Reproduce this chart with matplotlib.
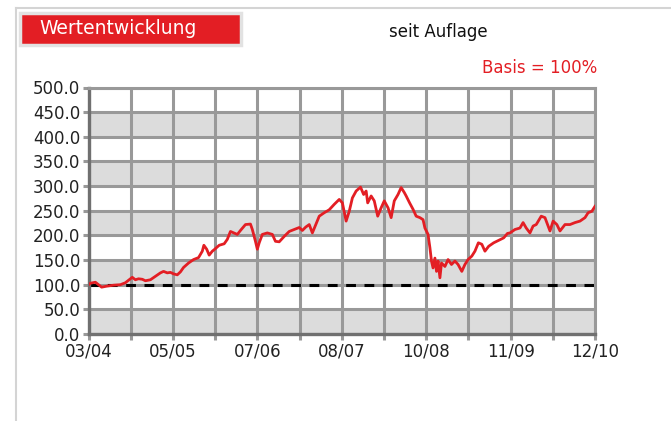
import matplotlib
matplotlib.use('Agg')
import matplotlib.pyplot as plt
import numpy as np
from matplotlib.patches import Rectangle
from matplotlib.lines import Line2D

# months since 03/04, value (Basis = 100)
months = [0.0, 0.3, 1.1, 1.6, 2.1, 2.9, 4.0, 5.1, 5.9, 6.7, 7.0, 7.5, 8.0, 8.6, 9.1, 9.9,
          10.7, 11.5, 12.0, 12.6, 13.1, 13.6, 14.2, 14.7, 15.2, 16.0, 16.8, 17.6, 18.2, 18.45,
          18.9, 19.3, 19.8, 20.1, 20.9, 21.7, 22.2, 22.7, 23.25, 23.8, 24.3, 25.1, 25.9, 26.2,
          26.7, 27.0, 27.3, 27.8, 28.6, 29.4, 29.9, 30.5, 31.3, 32.1, 32.9, 33.7, 34.2, 34.75,
          35.3, 35.8, 36.35, 36.9, 37.7, 38.5, 39.3, 40.1, 40.6, 41.2, 41.7, 42.2, 42.8, 43.5,
          44.0, 44.4, 44.65, 45.2, 45.7, 46.25, 46.8, 47.3, 47.9, 48.4, 48.9, 49.5, 50.0, 50.5,
          50.8, 51.35, 51.9, 52.4, 53.0, 53.5, 53.8, 54.3, 54.6, 54.85, 55.1, 55.4, 55.65, 55.9,
          56.2, 56.45, 57.0, 57.5, 58.05, 58.6, 59.1, 59.7, 60.2, 60.7, 61.3, 61.8, 62.35, 62.9,
          63.4, 64.0, 64.8, 65.6, 66.4, 67.0, 67.4, 68.2, 69.0, 69.5, 70.0, 70.6, 71.1, 71.6,
          72.4, 73.0, 73.5, 73.8, 74.3, 74.9, 75.4, 76.2, 77.0, 77.8, 78.6, 79.4, 79.9, 80.5, 81.0]
values = [100, 103, 105, 100, 95, 97, 99, 100, 104, 112, 115, 110, 112, 111, 108, 110,
          117, 124, 127, 124, 125, 122, 120, 126, 135, 144, 151, 155, 168, 180,
          172, 160, 168, 171, 180, 183, 192, 208, 205, 202, 210, 222, 223, 212,
          188, 172, 185, 202, 205, 202, 188, 187, 198, 208, 212, 216, 210, 217,
          222, 205, 222, 239, 246, 252, 263, 273, 266, 229, 249, 276, 290, 298,
          283, 290, 266, 280, 270, 239, 256, 270, 256, 236, 270, 283, 297, 287,
          280, 266, 253, 239, 236, 232, 215, 202, 175, 148, 134, 154, 127, 148,
          114, 144, 137, 151, 141, 148, 141, 127, 141, 151, 158, 168, 185, 182,
          168, 178, 185, 190, 195, 204, 205, 212, 215, 226, 215, 205, 219, 222,
          239, 236, 219, 209, 229, 222, 209, 222, 222, 226, 229, 236, 246, 249, 259]

tick_labels = ['03/04', '05/05', '07/06', '08/07', '10/08', '11/09', '12/10']
basis = 100
red = '#e31e24'

fig = plt.figure(figsize=(6.71, 4.21), dpi=100)
ax = fig.add_axes([88.5/671, 1-334/421, (595-88.5)/671, (334-87.5)/421])

for lo in range(0, 500, 100):
    ax.axhspan(lo, lo+50, color='#dcdcdc', zorder=0, lw=0)

xt = np.linspace(0, 81, 13)
ax.set_xticks(xt)
ax.set_xticklabels([tick_labels[i//2] if i % 2 == 0 else '' for i in range(13)])
ax.set_yticks(np.arange(0, 501, 50))
ax.set_yticklabels(['%.1f' % v for v in np.arange(0, 501, 50)])
ax.grid(True, color='#999999', lw=2.2, zorder=1)
ax.set_axisbelow(True)
ax.set_xlim(0, 81)
ax.set_ylim(0, 500)

ax.plot([months[0], months[-1]], [basis, basis], color='black', lw=2.2,
        dashes=(3.2, 2.8), zorder=2)
ax.plot(months, values, color=red, lw=2.0, zorder=3)

for s in ['top', 'right']:
    ax.spines[s].set_color('#999999')
    ax.spines[s].set_linewidth(2.2)
for s in ['left', 'bottom']:
    ax.spines[s].set_color('#707070')
    ax.spines[s].set_linewidth(2.4)
ax.tick_params(length=4, width=2.2, color='#999999', labelsize=12, pad=2,
               labelcolor='#222222')

# outer frame
fig.add_artist(Line2D([16/671, 16/671], [0, 1-8/421], color='#d4d4d4', lw=1.5))
fig.add_artist(Line2D([16/671, 1], [1-8/421, 1-8/421], color='#d4d4d4', lw=1.5))

fig.add_artist(Rectangle((20/671, 1-45/421), 221/671, 32/421, transform=fig.transFigure,
                         facecolor=red, edgecolor='#e2e2e2', lw=2.5))
fig.text(39/671, 1-29/421, 'Wertentwicklung', color='white', fontsize=13.5,
         va='center', ha='left')
fig.text(438/671, 1-32/421, 'seit Auflage', color='#111111', fontsize=12,
         va='center', ha='center')
fig.text(597/671, 1-68/421, 'Basis = 100%', color=red, fontsize=12,
         va='center', ha='right')

fig.savefig('out.png', dpi=100)
